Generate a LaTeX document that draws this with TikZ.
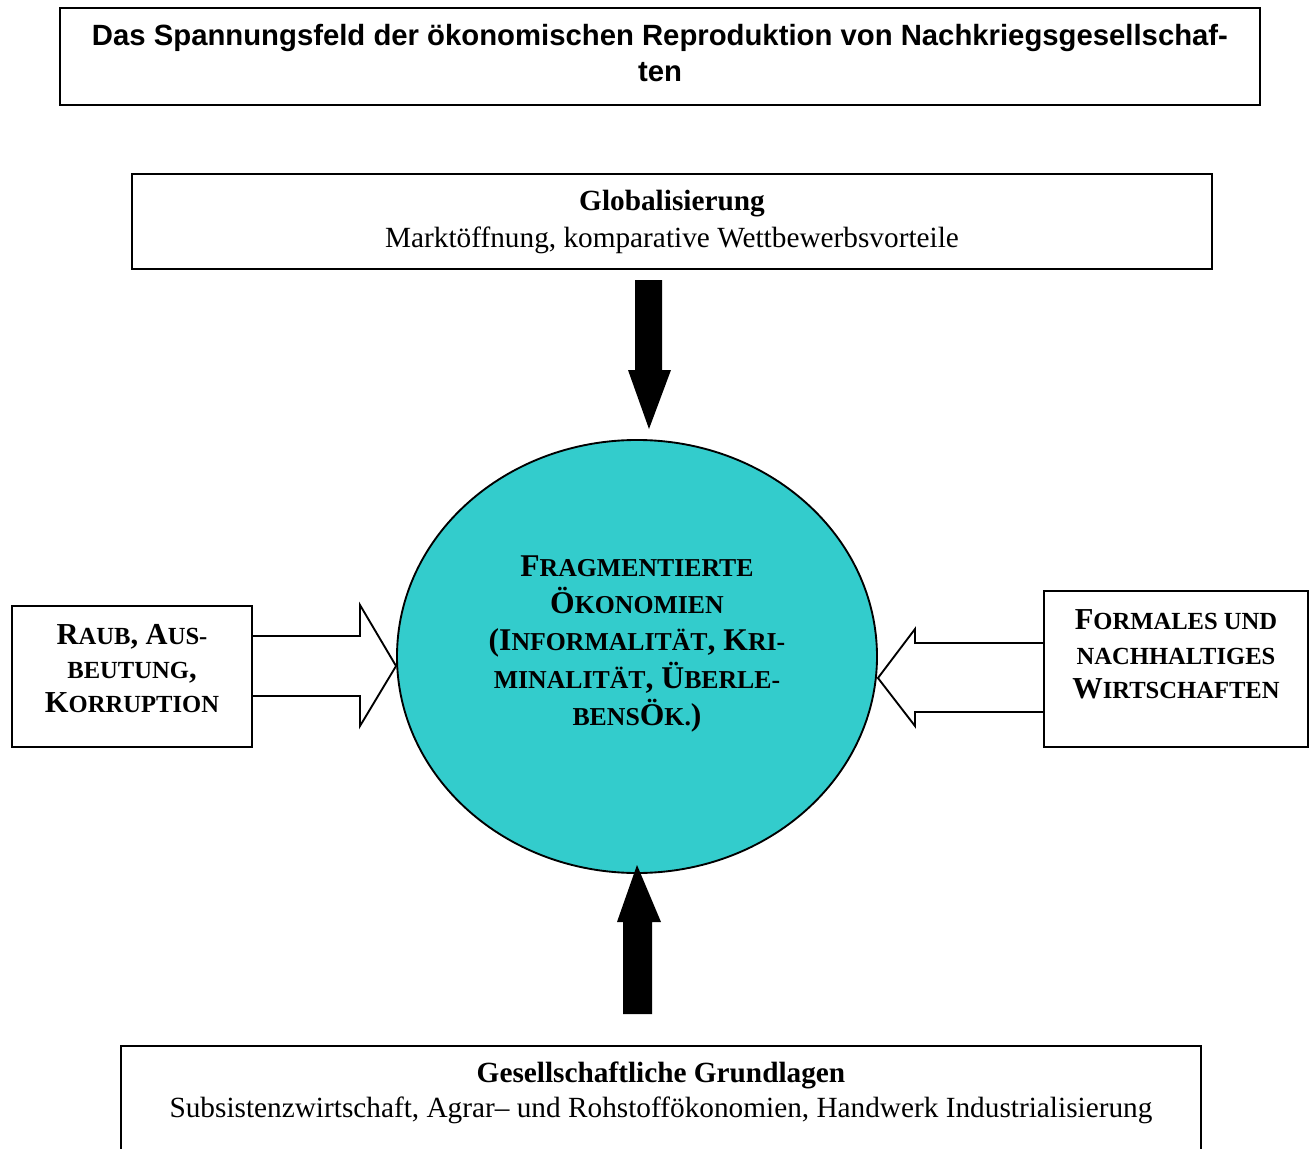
\documentclass[tikz,border=0pt]{standalone}
\usepackage{fontspec}
\setmainfont{Liberation Serif}
\setsansfont{Liberation Sans}
\usetikzlibrary{shapes.geometric}
\definecolor{turkis}{RGB}{51,204,204}
\newcommand{\ksc}[1]{{\fontsize{10.5}{14}\selectfont #1}}
\newcommand{\kscgross}[1]{{\fontsize{11}{14}\selectfont #1}}

\begin{document}
\begin{tikzpicture}[x=0.015cm, y=-0.015cm]
    \useasboundingbox (0,0) rectangle (1316,1149);

    % Define boxes (top to bottom)
    \node[draw, line width=0.8pt, minimum width=18cm, minimum height=1.455cm, inner sep=0pt] (Titel) at (660,56.5) {};
    \node[draw, line width=0.8pt, minimum width=16.2cm, minimum height=1.425cm, inner sep=0pt] (Global) at (672,221.5) {};
    \node[draw, line width=0.8pt, minimum width=3.6cm, minimum height=2.115cm, inner sep=0pt] (Raub) at (132,676.5) {};
    \node[draw, line width=0.8pt, minimum width=3.96cm, minimum height=2.34cm, inner sep=0pt] (Formal) at (1176,669) {};
    \node[draw, line width=0.8pt, minimum width=16.2cm, minimum height=1.8cm, inner sep=0pt] (Grund) at (661,1106) {};
    \node[ellipse, draw, line width=0.8pt, fill=turkis, minimum width=7.2cm, minimum height=6.495cm, inner sep=0pt] (Oek) at (637,656.5) {};

    % Texts
    \node[align=center, font=\sffamily\bfseries\fontsize{12.5}{15.4}\selectfont] (TitelText) at (660,53) {Das Spannungsfeld der ökonomischen Reproduktion von Nachkriegsgesellschaf-\\ten};
    \node[align=center, font=\fontsize{12.5}{15.4}\selectfont] (GlobalText) at (672,222) {\textbf{Globalisierung}\\Marktöffnung, komparative Wettbewerbsvorteile};
    \node[align=center, font=\bfseries\fontsize{13}{14.5}\selectfont] (RaubText) at (132,669) {R\ksc{AUB}, A\ksc{US-}\\\ksc{BEUTUNG},\\K\ksc{ORRUPTION}};
    \node[align=center, font=\bfseries\fontsize{13}{14.7}\selectfont] (FormalText) at (1176,654.5) {F\ksc{ORMALES UND}\\\ksc{NACHHALTIGES}\\W\ksc{IRTSCHAFTEN}};
    \node[align=center, font=\bfseries\fontsize{13.5}{15.8}\selectfont] (OekText) at (637,644) {F\kscgross{RAGMENTIERTE}\\Ö\kscgross{KONOMIEN}\\(I\kscgross{NFORMALITÄT}, K\kscgross{RI-}\\\kscgross{MINALITÄT}, Ü\kscgross{BERLE-}\\\kscgross{BENS}Ö\kscgross{K.})};
    \node[align=center, font=\fontsize{12.5}{15.2}\selectfont] (GrundText) at (661,1093) {\textbf{Gesellschaftliche Grundlagen}\\Subsistenzwirtschaft, Agrar– und Rohstoffökonomien, Handwerk Industrialisierung};

    % Arrow tips
    \coordinate (GlobalTip) at (649,429);
    \coordinate (GrundTip) at (637,865);
    \coordinate (RaubTip) at (Oek.west |- 0,666);
    \coordinate (FormalTip) at (Oek.east |- 0,678);

    % Draw arrows
    \fill (GlobalTip) -- ++(22,-59) -- ++(-9,0) -- ++(0,-90) -- ++(-27,0) -- ++(0,90) -- ++(-7,0) -- cycle;
    \fill (GrundTip) -- ++(24,57) -- ++(-9,0) -- ++(0,92) -- ++(-29,0) -- ++(0,-92) -- ++(-6,0) -- cycle;
    \draw[line width=0.8pt] (Raub.east |- 0,636) -- (360,636) -- (360,605) -- (RaubTip) -- (360,726) -- (360,696) -- (Raub.east |- 0,696);
    \draw[line width=0.8pt] (Formal.west |- 0,643) -- (915,643) -- (915,629) -- (FormalTip) -- (915,726) -- (915,712) -- (Formal.west |- 0,712);
\end{tikzpicture}
\end{document}
